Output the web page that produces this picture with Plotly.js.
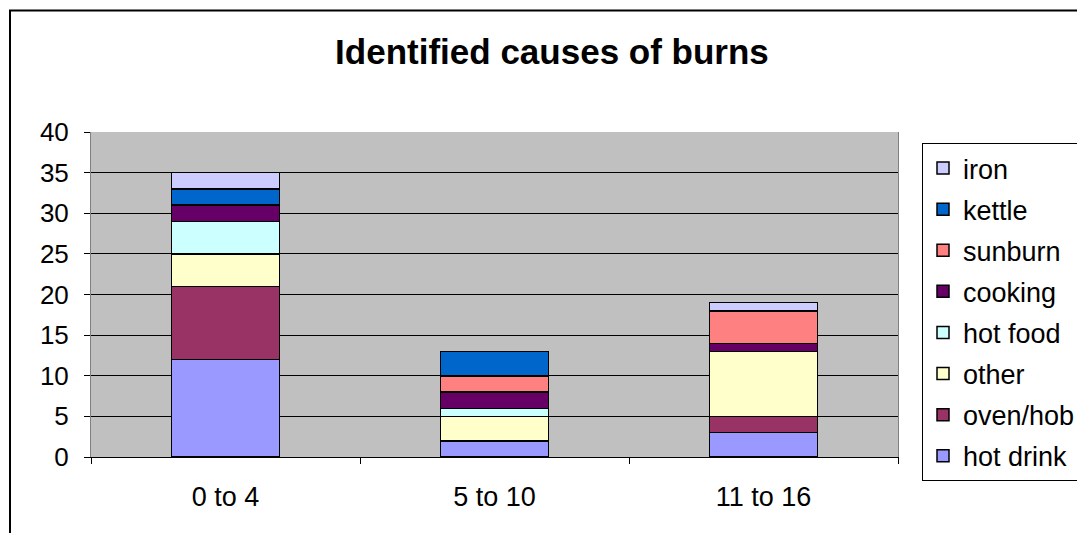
<!DOCTYPE html>
<html>
<head>
<meta charset="utf-8">
<script src="https://cdn.plot.ly/plotly-3.0.1.min.js"></script>
<style>html,body{margin:0;padding:0;background:#fff;}#chart{width:1077px;height:533px;}</style>
</head>
<body>
<div id="chart"></div>
<script>
const categories = ["0 to 4", "5 to 10", "11 to 16"];
const seriesNames = ["hot drink", "oven/hob", "other", "hot food", "cooking", "sunburn", "kettle", "iron"];
const hotDrink = [12, 2, 3];
const ovenHob = [9, 0, 2];
const other = [4, 3, 8];
const hotFood = [4, 1, 0];
const cooking = [2, 2, 1];
const sunburn = [0, 2, 4];
const kettle = [2, 3, 0];
const iron = [2, 0, 1];
const yTickVals = [0, 5, 10, 15, 20, 25, 30, 35, 40];

const values = [hotDrink, ovenHob, other, hotFood, cooking, sunburn, kettle, iron];
const colors = ["#9999FF", "#993366", "#FFFFCC", "#CCFFFF", "#660066", "#FF8080", "#0066CC", "#CCCCFF"];

const traces = seriesNames.map((name, i) => ({
  type: "bar",
  name: name,
  x: categories,
  y: values[i],
  legendgroup: "g" + i,
  legendrank: seriesNames.length - i,
  marker: {color: colors[i], line: {color: "#000000", width: 1.5}},
  hoverinfo: "x+y+name"
}));

const FONT = "Liberation Sans, Arial, sans-serif";

const layout = {
  width: 1077,
  height: 533,
  margin: {l: 91, r: 179, t: 132, b: 76, autoexpand: false},
  paper_bgcolor: "#FFFFFF",
  plot_bgcolor: "#C0C0C0",
  barmode: "stack",
  bargap: 0.6,
  font: {family: FONT, color: "#000000", size: 26},
  title: {
    text: "<b>Identified causes of burns</b>",
    font: {family: FONT, size: 35, color: "#000000"},
    xref: "container", x: 0.5125, xanchor: "center",
    yref: "container", y: 0.902, yanchor: "middle"
  },
  xaxis: {
    type: "category",
    tickson: "boundaries",
    ticks: "outside",
    ticklen: 6,
    tickcolor: "#000000",
    showgrid: false,
    showline: true,
    linecolor: "#000000",
    linewidth: 1,
    tickfont: {size: 27},
    ticklabelstandoff: 16,
    automargin: false,
    fixedrange: true
  },
  yaxis: {
    range: [0, 40],
    tickvals: yTickVals,
    ticktext: yTickVals.map(String),
    ticks: "outside",
    ticklen: 6,
    tickcolor: "#000000",
    showgrid: true,
    gridcolor: "#000000",
    gridwidth: 1,
    showline: true,
    mirror: true,
    linecolor: "#808080",
    linewidth: 1,
    zeroline: false,
    tickfont: {size: 26},
    ticklabelstandoff: 10,
    automargin: false,
    fixedrange: true
  },
  showlegend: true,
  legend: {
    x: (922 - 91) / 807,
    xanchor: "left",
    y: (457 - 143) / 325,
    yanchor: "top",
    traceorder: "grouped",
    tracegroupgap: 3,
    maxheight: 420,
    bgcolor: "#FFFFFF",
    bordercolor: "#000000",
    borderwidth: 1,
    font: {size: 27, family: FONT},
    itemwidth: 30
  },
  shapes: [{
    type: "rect",
    xref: "paper", yref: "paper",
    x0: (10 - 91) / 807, x1: 1.5,
    y0: -1, y1: (457 - 10.5) / 325,
    line: {color: "#000000", width: 2},
    fillcolor: "rgba(0,0,0,0)",
    layer: "below"
  }]
};

Plotly.newPlot("chart", traces, layout, {displayModeBar: false, staticPlot: true});
</script>
</body>
</html>
